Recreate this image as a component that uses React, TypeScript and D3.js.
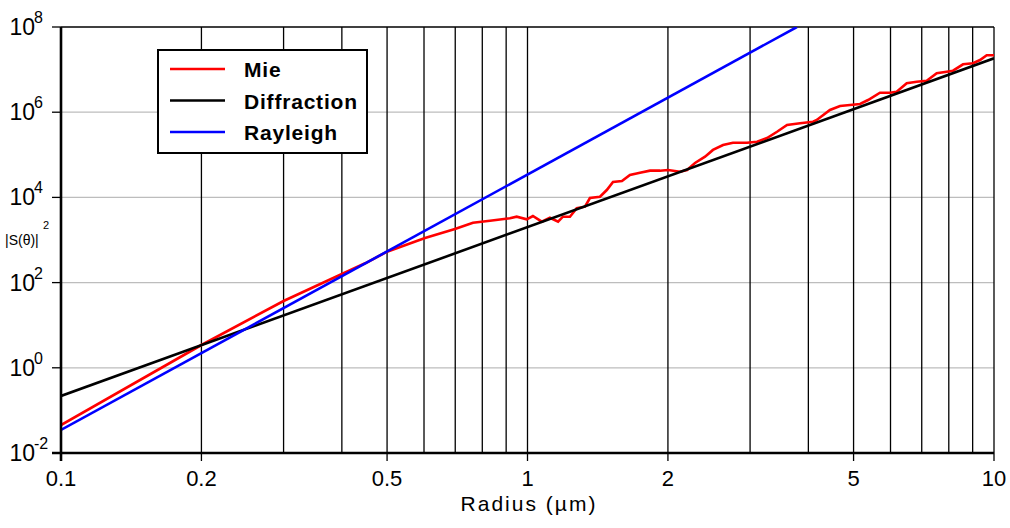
import React from 'react';
import * as d3 from 'd3';

// Mie |S(theta)|^2
const mieRadius = [
  0.1, 0.2, 0.3, 0.4, 0.45, 0.5, 0.603, 0.699, 0.764, 0.831, 0.917, 0.948, 0.996, 1.027,
  1.073, 1.117, 1.163, 1.191, 1.233, 1.275, 1.328, 1.361, 1.43, 1.479, 1.525, 1.594, 1.658,
  1.742, 1.831, 1.923, 2.001, 2.123, 2.198, 2.286, 2.402, 2.498, 2.625, 2.757, 2.955, 3.105,
  3.262, 3.427, 3.6, 3.839, 4.093, 4.169, 4.45, 4.677, 4.913, 5.163, 5.371, 5.696, 5.984,
  6.185, 6.5, 6.829, 7.174, 7.537, 7.918, 8.168, 8.583, 9.016, 9.333, 9.646, 10,
];
const mieValue = [
  0.0454, 3.43, 37.0, 159, 288, 531, 1114, 1811, 2547, 2838, 3228, 3524, 3062, 3656,
  2692, 3334, 2692, 3524, 3524, 5546, 6053, 9683, 1.04e4, 1.49e4, 2.3e4, 2.43e4, 3.36e4,
  3.8e4, 4.24e4, 4.24e4, 4.4e4, 4.01e4, 4.4e4, 6.43e4, 9.02e4, 1.3e5, 1.7e5, 1.92e5, 1.92e5, 2.03e5,
  2.48e5, 3.48e5, 5.01e5, 5.48e5, 5.98e5, 6.56e5, 1.13e6, 1.4e6, 1.48e6, 1.56e6, 1.93e6, 2.87e6, 2.87e6,
  3.03e6, 4.76e6, 5.2e6, 5.48e6, 8.18e6, 8.93e6, 9.42e6, 1.33e7, 1.41e7, 1.68e7, 2.17e7, 2.17e7,
];

// Diffraction and Rayleigh are straight lines on log-log axes
const diffractionRadius = [0.1, 10];
const diffractionValue = [0.218, 1.84e7];
const rayleighRadius = [0.1, 3.78];
const rayleighValue = [0.0347, 1e8];

const xTicks = [0.1, 0.2, 0.5, 1, 2, 5, 10];
const xTickLabels = ['0.1', '0.2', '0.5', '1', '2', '5', '10'];
const yTicks = [1e-2, 1e0, 1e2, 1e4, 1e6, 1e8];
const yExponents = ['-2', '0', '2', '4', '6', '8'];

const series = [
  { name: 'Mie', color: '#ff0000', r: mieRadius, v: mieValue },
  { name: 'Diffraction', color: '#000000', r: diffractionRadius, v: diffractionValue },
  { name: 'Rayleigh', color: '#0000ff', r: rayleighRadius, v: rayleighValue },
];

const W = 1010;
const H = 528;
const margin = { top: 27, right: 16, bottom: 75, left: 61 };
const FONT = '"Liberation Sans", Arial, Helvetica, sans-serif';

export default function App() {
  const x = d3.scaleLog().domain([0.1, 10]).range([margin.left, W - margin.right]);
  const y = d3.scaleLog().domain([1e-2, 1e8]).range([H - margin.bottom, margin.top]);
  const [x0, x1] = x.range();
  const [y0, y1] = y.range();

  // vertical grid at every 1-9 multiple
  const gridX: number[] = [];
  [0.1, 1].forEach(dec => {
    for (let k = 2; k <= 10; k++) gridX.push(dec * k);
  });

  const line = (r: number[], v: number[]) =>
    d3
      .line<number>()
      .x(i => x(r[i]))
      .y(i => y(v[i]))(r.map((_, i) => i)) || '';

  const legendRows = series.map((s, i) => ({ ...s, ly: 69 + i * 31.5 }));

  return (
    <>
      <style>{`body{margin:0;background:#fff}`}</style>
      <svg width={W} height={H} style={{ display: 'block', fontFamily: FONT }}>
        <rect width={W} height={H} fill="#fff" />
        <defs>
          <clipPath id="plot">
            <rect x={x0} y={y1} width={x1 - x0} height={y0 - y1} />
          </clipPath>
        </defs>

        {/* horizontal grid */}
        {yTicks.slice(1, -1).map(t => (
          <line key={t} x1={x0} x2={x1} y1={y(t)} y2={y(t)} stroke="#bdbdbd" strokeWidth={1.3} />
        ))}
        <line x1={x0} x2={x1} y1={y1} y2={y1} stroke="#000" strokeWidth={1.3} />

        {/* vertical grid */}
        {gridX.map(t => (
          <line key={t} x1={x(t)} x2={x(t)} y1={y1} y2={y0} stroke="#000" strokeWidth={1.3} />
        ))}

        {/* curves */}
        <g clipPath="url(#plot)">
          {series.map(s => (
            <path key={s.name} d={line(s.r, s.v)} fill="none" stroke={s.color} strokeWidth={2.6} />
          ))}
        </g>

        {/* axes */}
        <line x1={x0} x2={x0} y1={y1} y2={y0 + 8} stroke="#000" strokeWidth={2.6} />
        <line x1={x0 - 9} x2={x1} y1={y0} y2={y0} stroke="#000" strokeWidth={2.6} />
        {xTicks.map(t => (
          <line key={t} x1={x(t)} x2={x(t)} y1={y0} y2={y0 + 8} stroke="#000" strokeWidth={1.3} />
        ))}
        {yTicks.map(t => (
          <line key={t} x1={x0 - 9} x2={x0} y1={y(t)} y2={y(t)} stroke="#000" strokeWidth={1.3} />
        ))}

        {/* x tick labels */}
        {xTicks.map((t, i) => (
          <text key={t} x={x(t)} y={y0 + 33} fontSize={22} textAnchor="middle" fill="#000">
            {xTickLabels[i]}
          </text>
        ))}
        <text x={529} y={511} fontSize={21} textAnchor="middle" letterSpacing={2} fill="#000">
          Radius (µm)
        </text>

        {/* y tick labels */}
        {yTicks.map((t, i) => (
          <g key={t}>
            <text x={35} y={y(t) + 8} fontSize={23} textAnchor="end" fill="#000">
              10
            </text>
            <text x={34} y={y(t) - 4} fontSize={16} fill="#000">
              {yExponents[i]}
            </text>
          </g>
        ))}
        <text x={5} y={245} fontSize={14} fill="#000">
          |S(θ)|
        </text>
        <text x={43} y={229} fontSize={11} fill="#000">
          2
        </text>

        {/* legend */}
        <rect x={158} y={50} width={209} height={103} fill="#fff" stroke="#000" strokeWidth={2} />
        {legendRows.map(s => (
          <g key={s.name}>
            <line x1={170} x2={225} y1={s.ly} y2={s.ly} stroke={s.color} strokeWidth={2.4} />
            <text x={244} y={s.ly + 8} fontSize={21} fontWeight="bold" letterSpacing={0.8} fill="#000">
              {s.name}
            </text>
          </g>
        ))}
      </svg>
    </>
  );
}
